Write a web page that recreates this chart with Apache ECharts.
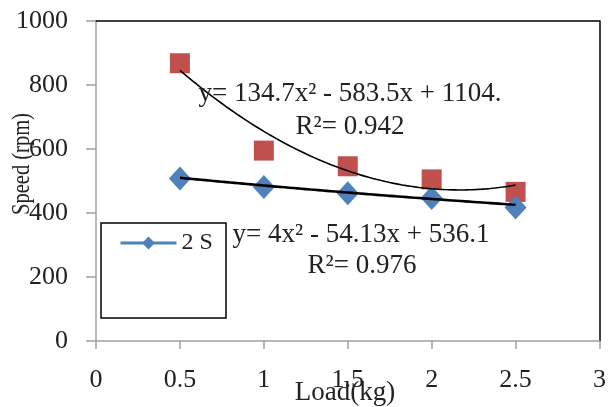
<!DOCTYPE html>
<html>
<head>
<meta charset="utf-8">
<script src="https://cdn.jsdelivr.net/npm/echarts@6/dist/echarts.min.js"></script>
<style>
html,body{margin:0;padding:0;background:#fff;}
#chart{width:609px;height:407px;}
</style>
</head>
<body>
<div id="chart"></div>
<script>
// Data
var loads = [0.5, 1, 1.5, 2, 2.5];
var speed1S = [868, 595, 546, 505, 466];
var speed2S = [508, 481, 462, 447, 417];
var xTicks = [0, 0.5, 1, 1.5, 2, 2.5, 3];
var yTicks = [0, 200, 400, 600, 800, 1000];
// Polynomial trendline coefficients shown on the chart (a, b, c for ax^2+bx+c)
var fit1S = [134.7, -583.5, 1104];
var fit2S = [4, -54.13, 536.1];
var eq1S = ['y= 134.7x\u00b2 - 583.5x + 1104.', 'R\u00b2= 0.942'];
var eq2S = ['y= 4x\u00b2 - 54.13x + 536.1', 'R\u00b2= 0.976'];
var seriesNames = ['1 S', '2 S'];

function pairs(xs, ys){ return xs.map(function(x,i){ return [x, ys[i]]; }); }
function trend(c, x0, x1){
  var pts = [];
  var n = 80;
  for (var i = 0; i <= n; i++){
    var x = x0 + (x1 - x0) * i / n;
    pts.push([x, c[0]*x*x + c[1]*x + c[2]]);
  }
  return pts;
}

var FONT = 'Liberation Serif';
var chart = echarts.init(document.getElementById('chart'), null, {renderer:'canvas'});
var option = {
  animation: false,
  backgroundColor: '#fff',
  grid: {left: 96, right: 6, top: 21, bottom: 66},
  xAxis: [{
    type: 'value', min: xTicks[0], max: xTicks[xTicks.length-1], interval: 0.5,
    axisLine: {show: true, lineStyle: {color: '#a0a0a0', width: 1.5}},
    axisTick: {show: true, length: 8, lineStyle: {color: '#a0a0a0', width: 1.5}},
    axisLabel: {fontFamily: FONT, fontSize: 26, color: '#222', margin: 26,
                formatter: function(v){ return String(v); }},
    splitLine: {show: false}
  },{
    type: 'value', position: 'top', min: 0, max: 3,
    axisLine: {show: true, onZero: false, lineStyle: {color: '#000', width: 1.5}},
    axisTick: {show: false}, axisLabel: {show: false}, splitLine: {show: false}
  }],
  yAxis: [{
    type: 'value', min: yTicks[0], max: yTicks[yTicks.length-1], interval: 200,
    axisLine: {show: true, lineStyle: {color: '#a0a0a0', width: 1.5}},
    axisTick: {show: true, length: 10, lineStyle: {color: '#a0a0a0', width: 1.5}},
    axisLabel: {fontFamily: FONT, fontSize: 26, color: '#222', margin: 28,
                formatter: function(v){ return String(v); }},
    splitLine: {show: false}
  },{
    type: 'value', position: 'right', min: 0, max: 1000,
    axisLine: {show: true, onZero: false, lineStyle: {color: '#000', width: 1.5}},
    axisTick: {show: false}, axisLabel: {show: false}, splitLine: {show: false}
  }],
  legend: {
    left: 119, top: 231, padding: 0,
    itemWidth: 56, itemHeight: 16, itemGap: 4,
    textStyle: {fontFamily: FONT, fontSize: 24, color: '#222'},
    data: [{name: seriesNames[1],
            itemStyle: {color: '#4F81BD', opacity: 1},
            lineStyle: {color: '#4F81BD', width: 3, opacity: 1}}]
  },
  graphic: [
    {type: 'rect', shape: {x: 101, y: 223, width: 125, height: 95}, z: 0,
     style: {fill: '#fff', stroke: '#000', lineWidth: 1.5}},
    {type: 'text', x: 350, y: 94, z: 10, style: {text: eq1S[0], font: '27px "' + FONT + '"', fill: '#222', align: 'center', verticalAlign: 'middle'}},
    {type: 'text', x: 350, y: 127, z: 10, style: {text: eq1S[1], font: '27px "' + FONT + '"', fill: '#222', align: 'center', verticalAlign: 'middle'}},
    {type: 'text', x: 361, y: 235, z: 10, style: {text: eq2S[0], font: '27px "' + FONT + '"', fill: '#222', align: 'center', verticalAlign: 'middle'}},
    {type: 'text', x: 362, y: 266, z: 10, style: {text: eq2S[1], font: '27px "' + FONT + '"', fill: '#222', align: 'center', verticalAlign: 'middle'}},
    {type: 'text', x: 22, y: 164, rotation: Math.PI/2, scaleX: 0.82, z: 10, style: {text: 'Speed (rpm)', font: '25px "' + FONT + '"', fill: '#222', align: 'center', verticalAlign: 'middle'}},
    {type: 'text', x: 345, y: 393, z: 10, style: {text: 'Load(kg)', font: '27px "' + FONT + '"', fill: '#222', align: 'center', verticalAlign: 'middle'}}
  ],
  series: [
    {name: seriesNames[0], type: 'scatter', symbol: 'rect', symbolSize: 20,
     itemStyle: {color: '#C0504D', opacity: 1}, data: pairs(loads, speed1S), z: 2},
    {name: seriesNames[1], type: 'line', symbol: 'diamond', symbolSize: [22, 24],
     itemStyle: {color: '#4F81BD'}, lineStyle: {color: '#4F81BD', width: 3, opacity: 0},
     data: pairs(loads, speed2S), z: 2},
    {name: 'trend1', type: 'line', showSymbol: false, symbol: 'none', smooth: false,
     lineStyle: {color: '#000', width: 1.6}, data: trend(fit1S, loads[0], loads[loads.length-1]), z: 5},
    {name: 'trend2', type: 'line', showSymbol: false, symbol: 'none', smooth: false,
     lineStyle: {color: '#000', width: 2.6}, data: trend(fit2S, loads[0], loads[loads.length-1]), z: 5}
  ]
};
chart.setOption(option);
</script>
</body>
</html>
